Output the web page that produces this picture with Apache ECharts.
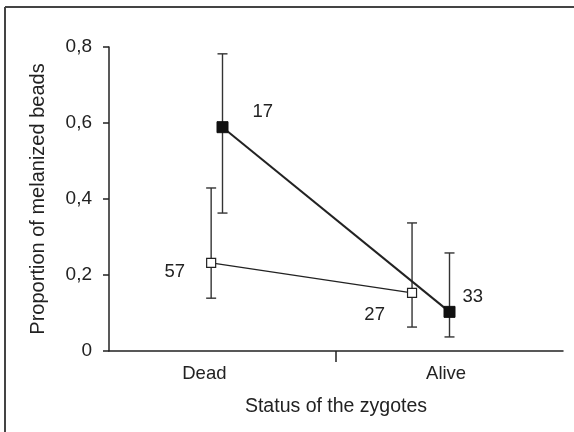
<!DOCTYPE html>
<html>
<head>
<meta charset="utf-8">
<script src="https://cdn.jsdelivr.net/npm/echarts@6/dist/echarts.min.js"></script>
<style>
  html, body { margin: 0; padding: 0; background: #fff; }
  #chart { width: 574px; height: 432px; }
</style>
</head>
<body>
<div id="chart"></div>
<script>
// Group positions on the x scale (0..4): Dead around 1, Alive around 3
const groupNames = ['Dead', 'Alive'];
const groupLabelPos = [0.84, 2.97];
const groupDivider = [2];

// Open squares
const openX = [0.9, 2.67];
const openMean = [0.232, 0.153];
const openLow = [0.139, 0.063];
const openHigh = [0.429, 0.337];
const openN = [57, 27];

// Filled squares
const filledX = [1.0, 3.0];
const filledMean = [0.589, 0.103];
const filledLow = [0.363, 0.037];
const filledHigh = [0.782, 0.258];
const filledN = [17, 33];

const yTicks = [0, 0.2, 0.4, 0.6, 0.8];

const FONT = 'Liberation Sans, Arial, Helvetica, sans-serif';
const INK = '#222';

function points(xs, ys, ns) {
  return xs.map((x, i) => ({ value: [x, ys[i]], n: ns[i] }));
}
function bars(xs, lows, highs) {
  return xs.map((x, i) => [x, lows[i], highs[i]]);
}

function errorBar(params, api) {
  const x = api.value(0);
  const lo = api.coord([x, api.value(1)]);
  const hi = api.coord([x, api.value(2)]);
  const half = 5;
  const style = { stroke: '#333', lineWidth: 1.4 };
  return {
    type: 'group',
    children: [
      { type: 'line', shape: { x1: lo[0], y1: lo[1], x2: hi[0], y2: hi[1] }, style },
      { type: 'line', shape: { x1: lo[0] - half, y1: lo[1], x2: lo[0] + half, y2: lo[1] }, style },
      { type: 'line', shape: { x1: hi[0] - half, y1: hi[1], x2: hi[0] + half, y2: hi[1] }, style }
    ]
  };
}

const chart = echarts.init(document.getElementById('chart'), null, { renderer: 'canvas' });

// Figure frame: only the top and left edges fall inside the page
const frameStyle = { stroke: '#444', lineWidth: 2 };

chart.setOption({
  animation: false,
  backgroundColor: '#fff',
  textStyle: { fontFamily: FONT },
  graphic: [
    { type: 'line', shape: { x1: 5, y1: 7, x2: 574, y2: 7 }, style: frameStyle, silent: true },
    { type: 'line', shape: { x1: 5, y1: 7, x2: 5, y2: 432 }, style: frameStyle, silent: true }
  ],
  grid: { left: 109, right: 11, top: 47, bottom: 81 },
  xAxis: {
    type: 'value',
    min: 0, max: 4, interval: 1,
    splitLine: { show: false },
    axisLine: { show: true, lineStyle: { color: INK, width: 1.5 } },
    axisTick: { show: true, customValues: groupDivider, length: 11, lineStyle: { color: INK, width: 1.5 } },
    axisLabel: {
      customValues: groupLabelPos,
      formatter: v => {
        const i = groupLabelPos.indexOf(v);
        return i >= 0 ? groupNames[i] : '';
      },
      color: INK, fontSize: 18.5, margin: 13, fontFamily: FONT
    },
    name: 'Status of the zygotes',
    nameLocation: 'middle',
    nameGap: 46,
    nameTextStyle: { color: INK, fontSize: 19.5, fontFamily: FONT }
  },
  yAxis: {
    type: 'value',
    min: 0, max: 0.8, interval: 0.2,
    splitLine: { show: false },
    axisLine: { show: true, lineStyle: { color: INK, width: 1.5 } },
    axisTick: { show: true, length: 6, lineStyle: { color: INK, width: 1.5 } },
    axisLabel: {
      formatter: v => {
        const t = yTicks.find(k => Math.abs(k - v) < 1e-9);
        return t === 0 ? '0' : String(+v.toFixed(1)).replace('.', ',');
      },
      color: INK, fontSize: 19, margin: 17, fontFamily: FONT
    },
    name: 'Proportion of melanized beads',
    nameLocation: 'middle',
    nameGap: 61,
    nameTextStyle: { color: INK, fontSize: 20, fontFamily: FONT }
  },
  series: [
    {
      type: 'custom',
      renderItem: errorBar,
      data: bars(openX, openLow, openHigh),
      z: 1
    },
    {
      type: 'custom',
      renderItem: errorBar,
      data: bars(filledX, filledLow, filledHigh),
      z: 1
    },
    {
      type: 'line',
      data: points(openX, openMean, openN),
      symbol: 'rect',
      symbolSize: 9,
      lineStyle: { color: INK, width: 1.3 },
      itemStyle: { color: '#fff', borderColor: INK, borderWidth: 1.2 },
      z: 3,
      label: {
        show: true,
        formatter: p => String(p.data.n),
        color: INK, fontSize: 18.5, fontFamily: FONT,
        position: 'left',
        distance: 0
      },
      labelLayout: p => (p.dataIndex === 0 ? { dx: -21, dy: 9 } : { dx: -22, dy: 22 })
    },
    {
      type: 'line',
      data: points(filledX, filledMean, filledN),
      symbol: 'rect',
      symbolSize: 11,
      lineStyle: { color: INK, width: 2 },
      itemStyle: { color: '#111', borderColor: '#111' },
      z: 4,
      label: {
        show: true,
        formatter: p => String(p.data.n),
        color: INK, fontSize: 18.5, fontFamily: FONT,
        position: 'right',
        distance: 0
      },
      labelLayout: p => (p.dataIndex === 0 ? { dx: 24, dy: -15 } : { dx: 7, dy: -15 })
    }
  ]
});
</script>
</body>
</html>
